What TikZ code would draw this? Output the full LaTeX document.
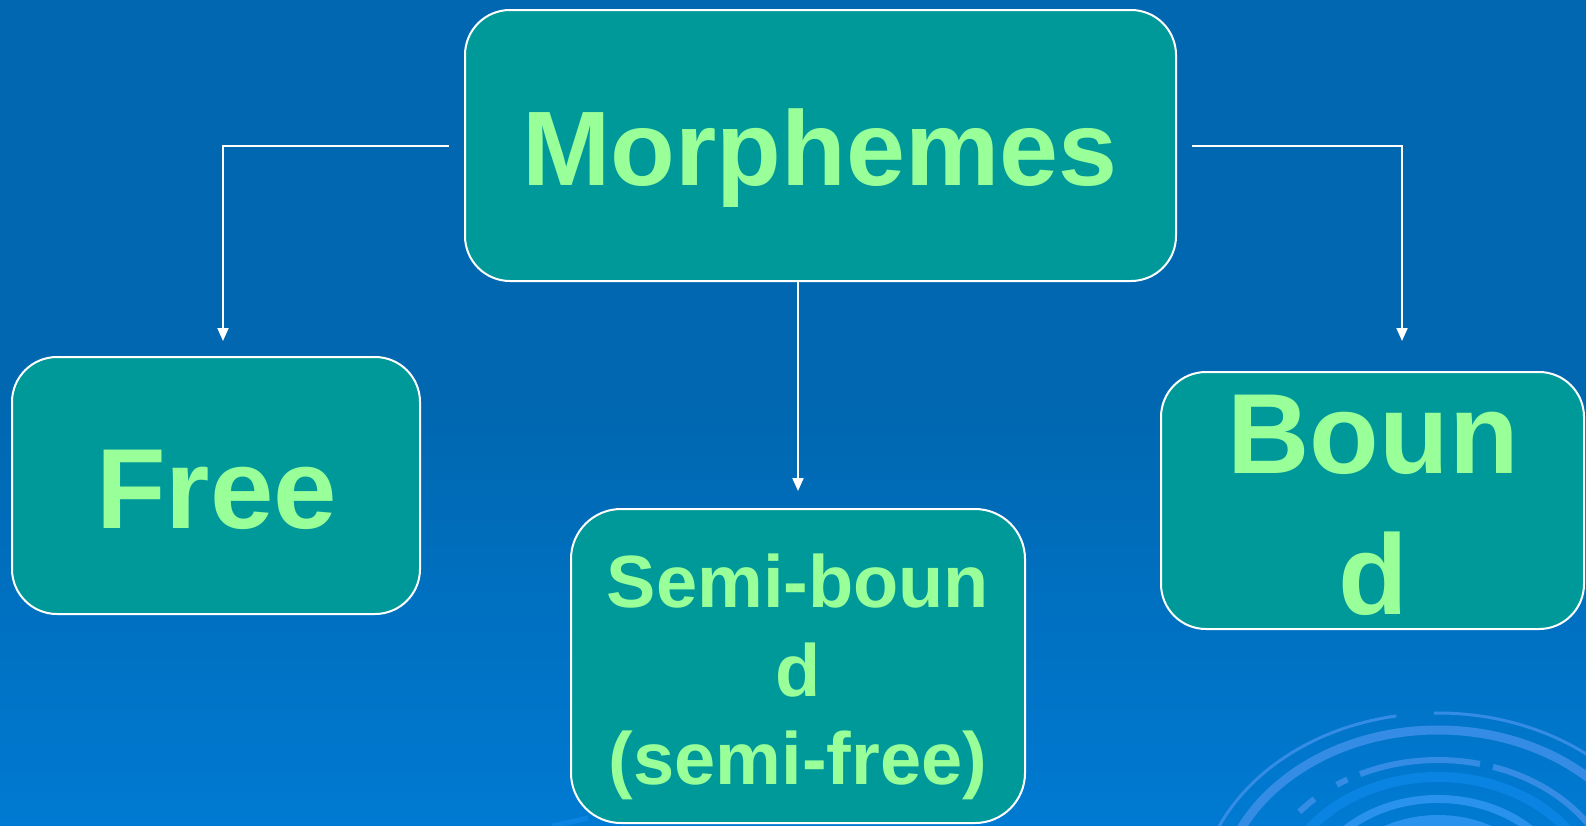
\documentclass[tikz,border=0pt]{standalone}
\usepackage{fontspec}
\setmainfont{Liberation Sans}
\usetikzlibrary{arrows.meta}
\definecolor{bgtop}{RGB}{0,103,176}
\definecolor{bgbot}{RGB}{0,122,210}
\definecolor{boxfill}{RGB}{0,153,153}
\definecolor{labelgreen}{RGB}{153,255,153}
\definecolor{ringlight}{RGB}{52,140,228}
\definecolor{ringdeep}{RGB}{10,132,226}
\definecolor{ringbright}{RGB}{40,146,236}
\begin{document}
\begin{tikzpicture}[x=1pt,y=-1pt,
  box/.style={draw=white, line width=2pt, fill=boxfill, rounded corners=45pt, inner sep=0pt},
  lbl/.style={text=labelgreen, font=\bfseries, anchor=base, inner sep=0pt},
  conn/.style={draw=white, line width=2pt, -{Triangle[width=11pt,length=13pt]}},
  ring/.style={line cap=butt}]

% background
\fill[bgtop] (0,0) rectangle (1586,825);
\shade[top color=bgtop, bottom color=bgbot] (0,400) rectangle (1586,825);
\useasboundingbox (0,0) rectangle (1586,825);

% concentric rings in the lower right corner
\begin{scope}
  \clip (0,0) rectangle (1586,825);
  \coordinate (rc) at (1438,905);
  % outer thin ring with a gap
  \draw[ring, draw=ringlight, line width=3pt] (rc) ++(-180:240 and 192) arc[start angle=-180, end angle=-100, x radius=240, y radius=192];
  \draw[ring, draw=ringlight, line width=3pt] (rc) ++(-91:240 and 192) arc[start angle=-91, end angle=0, x radius=240, y radius=192];
  % thick ring
  \draw[ring, draw=ringlight, line width=9pt] (rc) ++(-180:219 and 175) arc[start angle=-180, end angle=0, x radius=219, y radius=175];
  % medium ring, broken into pieces
  \draw[ring, draw=ringlight, line width=6pt] (rc) ++(-140:181 and 145) arc[start angle=-140, end angle=-133, x radius=181, y radius=145];
  \draw[ring, draw=ringlight, line width=6pt] (rc) ++(-124:181 and 145) arc[start angle=-124, end angle=-120, x radius=181, y radius=145];
  \draw[ring, draw=ringlight, line width=6pt] (rc) ++(-115.5:181 and 145) arc[start angle=-115.5, end angle=-76.6, x radius=181, y radius=145];
  \draw[ring, draw=ringlight, line width=6pt] (rc) ++(-72.3:181 and 145) arc[start angle=-72.3, end angle=0, x radius=181, y radius=145];
  % inner bands
  \draw[ring, draw=ringdeep, line width=10pt] (rc) ++(-150:160 and 128) arc[start angle=-150, end angle=-30, x radius=160, y radius=128];
  \draw[ring, draw=ringbright, line width=8pt] (rc) ++(-170:132 and 106) arc[start angle=-170, end angle=-10, x radius=132, y radius=106];
  \fill[ringbright] (rc) ellipse[x radius=112, y radius=90];
  % stray stroke near the middle box
  \draw[ring, draw=ringdeep, line width=5pt] (552,826) -- (588,818);
\end{scope}

% boxes
\node[box, minimum width=711pt, minimum height=271pt] (morph) at (820.5,145.5) {};
\node[box, minimum width=408pt, minimum height=257pt] (free)  at (216,485.5) {};
\node[box, minimum width=454pt, minimum height=314pt, rounded corners=50pt] (semi) at (798,666) {};
\node[box, minimum width=423pt, minimum height=257pt] (bound) at (1372.5,500.5) {};

% labels
\node[lbl, font=\bfseries\fontsize{106}{106}\selectfont] (tmorph) at (820,185) {Morphemes};
\node[lbl, font=\bfseries\fontsize{114}{114}\selectfont] (tfree) at (216.5,528) {Free};
\node[lbl, font=\bfseries\fontsize{114}{114}\selectfont] (tbound1) at (1373,473) {Boun};
\node[lbl, font=\bfseries\fontsize{114}{114}\selectfont] (tbound2) at (1373,614) {d};
\node[lbl, font=\bfseries\fontsize{74}{74}\selectfont] (tsemi1) at (798,607) {Semi-boun};
\node[lbl, font=\bfseries\fontsize{74}{74}\selectfont] (tsemi2) at (798,696) {d};
\node[lbl, font=\bfseries\fontsize{74}{74}\selectfont] (tsemi3) at (798,784) {(semi-free)};

% connectors
\draw[conn] ([xshift=-15pt]morph.west) -| ([xshift=7pt,yshift=15pt]free.north);
\draw[conn] ([xshift=15pt]morph.east) -| ([xshift=29.5pt,yshift=30pt]bound.north);
\draw[conn] ([xshift=-22.5pt]morph.south) -- ([yshift=17pt]semi.north);
\end{tikzpicture}
\end{document}
